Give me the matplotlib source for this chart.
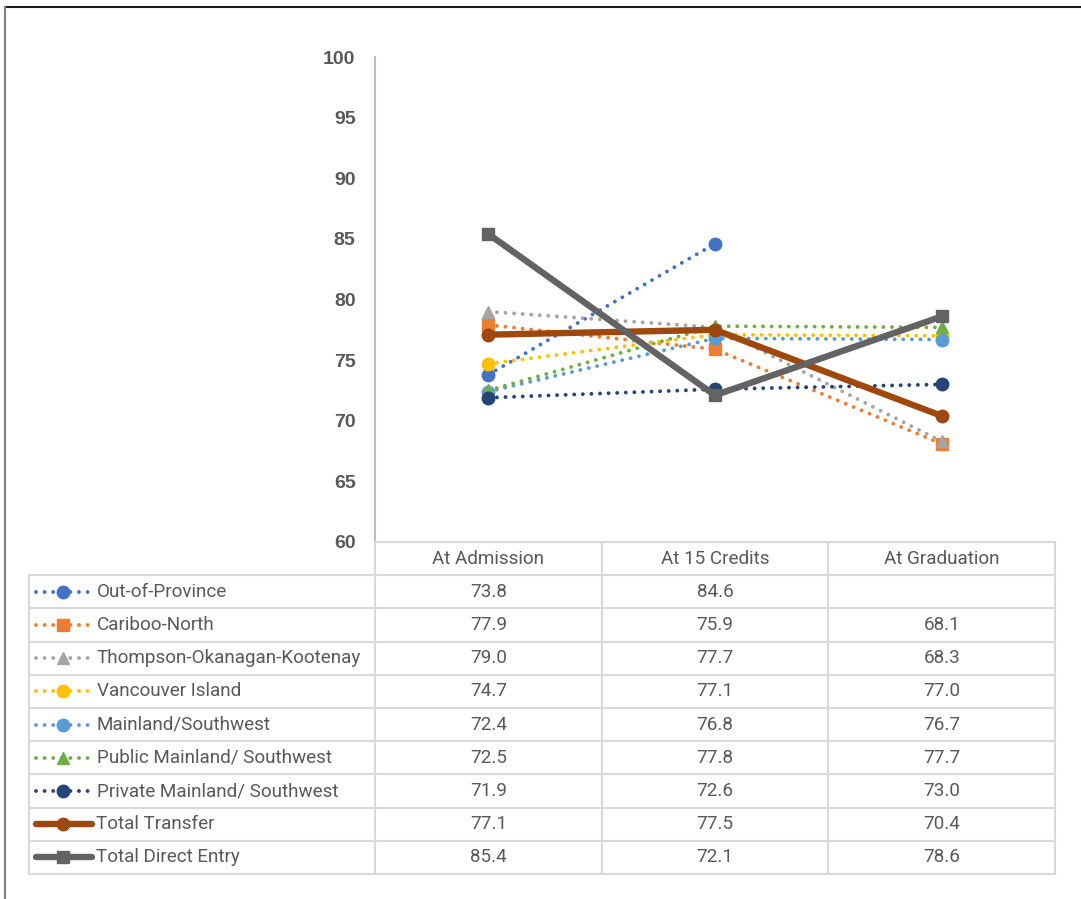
import matplotlib.pyplot as plt
from matplotlib.lines import Line2D
import numpy as np

stages = ['At Admission', 'At 15 Credits', 'At Graduation']
series_names = ['Out-of-Province', 'Cariboo-North', 'Thompson-Okanagan-Kootenay',
                'Vancouver Island', 'Mainland/Southwest', 'Public Mainland/ Southwest',
                'Private Mainland/ Southwest', 'Total Transfer', 'Total Direct Entry']
out_of_province = [73.8, 84.6, np.nan]
cariboo_north = [77.9, 75.9, 68.1]
thompson = [79.0, 77.7, 68.3]
vancouver_island = [74.7, 77.1, 77.0]
mainland_sw = [72.4, 76.8, 76.7]
public_mainland = [72.5, 77.8, 77.7]
private_mainland = [71.9, 72.6, 73.0]
total_transfer = [77.1, 77.5, 70.4]
total_direct = [85.4, 72.1, 78.6]
all_values = [out_of_province, cariboo_north, thompson, vancouver_island, mainland_sw,
              public_mainland, private_mainland, total_transfer, total_direct]

colors = ['#4472C4', '#ED7D31', '#A5A5A5', '#FFC000', '#5B9BD5', '#70AD47',
          '#264478', '#9E480E', '#636363']
markers = ['o', 's', '^', 'o', 'o', '^', 'o', 'o', 's']
thick = [False] * 7 + [True, True]

W, H = 1081, 899
fig = plt.figure(figsize=(W / 100, H / 100), dpi=100)


def frac(x0, y0, x1, y1):
    # pixel box (top-left origin) -> figure fraction rect
    return [x0 / W, 1 - y1 / H, (x1 - x0) / W, (y1 - y0) / H]


ax = fig.add_axes(frac(375, 57, 1055, 542))
x = np.arange(len(stages))
dot_style = (0, (0.01, 2.2))
for vals, c, m, t in zip(all_values, colors, markers, thick):
    if t:
        ax.plot(x, vals, color=c, lw=4.6, marker=m, ms=9, solid_capstyle='round',
                clip_on=False, zorder=4)
    else:
        ax.plot(x, vals, color=c, lw=2.8, linestyle=dot_style, dash_capstyle='round',
                marker=m, ms=9, clip_on=False, zorder=3)

ax.set_xlim(-0.5, 2.5)
ax.set_ylim(60, 100)
ax.set_yticks(np.arange(60, 101, 5))
ax.set_xticks([])
ax.tick_params(axis='y', length=0, pad=14, labelsize=14, labelcolor='#595959')
for lab in ax.get_yticklabels():
    lab.set_fontweight('bold')
    lab.set_fontfamily('Liberation Sans')
for s in ['top', 'right', 'bottom']:
    ax.spines[s].set_visible(False)
ax.spines['left'].set_color('#BFBFBF')
ax.spines['left'].set_linewidth(1.5)

# data table below the plot
col_w = 680 / 3
tab = fig.add_axes(frac(29, 542, 1055, 874))
x_left = -0.5 - 346 / col_w
tab.set_xlim(x_left, 2.5)
tab.set_ylim(10, 0)
tab.axis('off')


def px_x(p):
    return -0.5 + (p - 375) / col_w


grid = '#D9D9D9'
txt_col = '#595959'
font = 'Roboto'
fs = 13.6
# horizontal lines
tab.plot([-0.5, 2.5], [0, 0], color=grid, lw=1.5, clip_on=False)
for r in range(1, 11):
    tab.plot([x_left, 2.5], [r, r], color=grid, lw=1.5, clip_on=False)
# vertical lines
tab.plot([x_left, x_left], [1, 10], color=grid, lw=1.5, clip_on=False)
for cx in [-0.5, 0.5, 1.5, 2.5]:
    tab.plot([cx, cx], [0, 10], color=grid, lw=1.5, clip_on=False)

for i, st in enumerate(stages):
    tab.text(i, 0.5, st, ha='center', va='center', fontsize=fs, color=txt_col,
             family=font)

for r, (name, vals, c, m, t) in enumerate(zip(series_names, all_values, colors, markers, thick)):
    yc = r + 1.5
    for i, v in enumerate(vals):
        if not np.isnan(v):
            tab.text(i, yc, f'{v:.1f}', ha='center', va='center', fontsize=fs,
                     color=txt_col, family=font)
    if t:
        tab.plot([px_x(36), px_x(92)], [yc, yc], color=c, lw=4.6, solid_capstyle='round')
        tab.plot([px_x(63)], [yc], color=c, marker=m, ms=9)
        tx = px_x(96)
    else:
        tab.plot([px_x(36), px_x(90)], [yc, yc], color=c, lw=2.8, linestyle=dot_style,
                 dash_capstyle='round')
        tab.plot([px_x(63)], [yc], color=c, marker=m, ms=9)
        tx = px_x(97)
    tab.text(tx, yc, name, ha='left', va='center', fontsize=fs, color=txt_col,
             family=font)

# outer frame (top and left edges only visible)
fig.add_artist(Line2D([5 / W, 1], [1 - 7 / H, 1 - 7 / H], color='#1a1a1a', lw=1.5))
fig.add_artist(Line2D([5 / W, 5 / W], [0, 1 - 7 / H], color='#7f7f7f', lw=1.5))

fig.savefig('out.png', dpi=100)
